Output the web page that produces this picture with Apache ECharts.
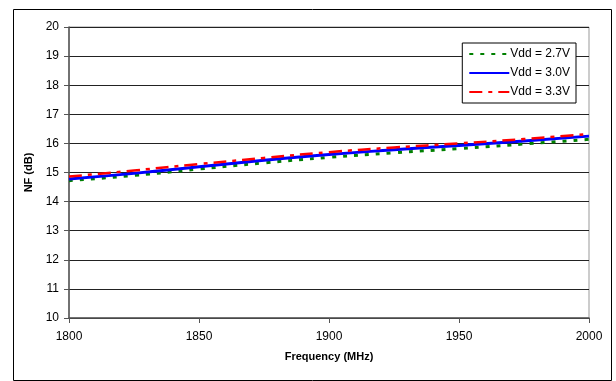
<!DOCTYPE html>
<html><head><meta charset="utf-8">
<script src="https://cdn.jsdelivr.net/npm/echarts@6/dist/echarts.min.js"></script>
<style>html,body{margin:0;padding:0;background:#fff}#c{width:616px;height:381px}</style>
</head><body><div id="c"></div>
<script>
var freq = [1800, 1825, 1850, 1875, 1900, 1925, 1950, 1975, 2000];
var nf27 = [14.72, 14.90, 15.12, 15.33, 15.52, 15.68, 15.82, 15.98, 16.14];
var nf30 = [14.78, 14.97, 15.20, 15.42, 15.62, 15.78, 15.93, 16.08, 16.25];
var nf33 = [14.86, 15.07, 15.29, 15.50, 15.70, 15.86, 16.00, 16.15, 16.32];
var seriesNames = ['Vdd = 2.7V', 'Vdd = 3.0V', 'Vdd = 3.3V'];
var yTicks = [10, 11, 12, 13, 14, 15, 16, 17, 18, 19, 20];

function pairs(ys){ return freq.map(function(f,i){return [f, ys[i]];}); }
var chart = echarts.init(document.getElementById('c'));
var font = 'Liberation Sans, Arial, sans-serif';
chart.setOption({
  animation: false,
  textStyle: {fontFamily: font},
  graphic: [{type:'rect', left: 11, top: 7, shape:{x:0.5, y:0.5, width: 598, height: 371}, style:{fill:'none', stroke:'#000', lineWidth:1}, z: -1}],
  grid: {left: 69, right: 27, top: 27, bottom: 63, show: true, borderColor: '#999', borderWidth: 1},
  legend: {
    orient: 'vertical', right: 40, top: 43,
    data: seriesNames,
    itemWidth: 40, itemHeight: 12, itemGap: 7,
    padding: [5, 6, 5, 6],
    backgroundColor: '#fff', borderColor: '#000', borderWidth: 1,
    itemStyle: {opacity: 0, borderWidth: 0},
    textStyle: {fontSize: 12, color: '#000', fontFamily: font, padding: [0,0,0,-4]}
  },
  xAxis: {
    type: 'value', min: 1800, max: 2000, interval: 50,
    name: 'Frequency (MHz)', nameLocation: 'middle', nameGap: 33,
    nameTextStyle: {fontWeight: 'bold', fontSize: 11, color: '#000', fontFamily: font},
    axisLine: {lineStyle: {color: '#555', width: 1.5}},
    axisTick: {show: true, inside: false, length: 5, lineStyle: {color: '#555'}},
    axisLabel: {fontSize: 12, color: '#000', margin: 13, fontFamily: font, formatter: function(v){return String(v);}},
    splitLine: {show: false}
  },
  yAxis: {
    type: 'value', min: yTicks[0], max: yTicks[yTicks.length-1], interval: 1,
    name: 'NF (dB)', nameLocation: 'middle', nameGap: 30, nameRotate: 90,
    nameTextStyle: {fontWeight: 'bold', fontSize: 11, color: '#000', fontFamily: font},
    axisLine: {show: true, lineStyle: {color: '#555', width: 1.5}},
    axisTick: {show: true, inside: false, length: 5, lineStyle: {color: '#555'}},
    axisLabel: {fontSize: 12, color: '#000', margin: 10, fontFamily: font},
    splitLine: {show: true, lineStyle: {color: '#222', width: 1}}
  },
  series: [
    {name: seriesNames[0], type: 'line', data: pairs(nf27), smooth: true, symbol: 'none',
     lineStyle: {color: '#008000', width: 3, type: [4, 7]}, itemStyle: {color: '#008000'}, z: 2},
    {name: seriesNames[1], type: 'line', data: pairs(nf30), smooth: true, symbol: 'none',
     lineStyle: {color: '#0000ff', width: 3, type: 'solid'}, itemStyle: {color: '#0000ff'}, z: 3},
    {name: seriesNames[2], type: 'line', data: pairs(nf33), smooth: true, symbol: 'none',
     lineStyle: {color: '#ff0000', width: 2.5, type: [13, 6, 4, 6]}, itemStyle: {color: '#ff0000'}, z: 4}
  ]
});
</script></body></html>
